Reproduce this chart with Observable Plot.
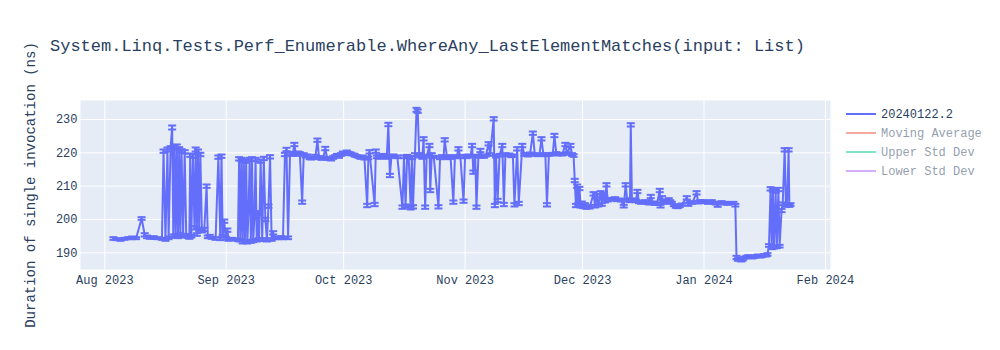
<!DOCTYPE html>
<html>
<head>
<meta charset="utf-8">
<script src="https://cdn.jsdelivr.net/npm/d3@7"></script>
<script src="https://cdn.jsdelivr.net/npm/@observablehq/plot@0.6"></script>
<style>
  html, body { margin: 0; padding: 0; background: white; }
  #chart { width: 1000px; height: 350px; }
</style>
</head>
<body>
<div id="chart"></div>
<script>
const chartTitle = "System.Linq.Tests.Perf_Enumerable.WhereAny_LastElementMatches(input: List)";
const yAxisTitle = "Duration of single invocation (ns)";
const seriesNames = ["20240122.2", "Moving Average", "Upper Std Dev", "Lower Std Dev"];
const seriesColors = ["#636efa", "#EF553B", "#00cc96", "#ab63fa"];
const xTickDates = ["2023-08-01", "2023-09-01", "2023-10-01", "2023-11-01", "2023-12-01", "2024-01-01", "2024-02-01"];
const yTickValues = [190, 200, 210, 220, 230];
const xDomain = ["2023-07-25T19:12:00Z", "2024-02-02T07:12:00Z"];
const yDomain = [185.0, 235.7];

// Run times, in days after 2023-08-01 00:00 UTC
const baseDate = "2023-08-01T00:00:00Z";
const days = [
2.2,3.0,4.0,5.0,6.0,7.0,8.0,9.4,10.2,10.8,11.5,12.5,13.5,14.6,15.0,15.5,16.0,16.3,16.8,17.2,
17.5,17.8,18.1,18.4,18.7,19.0,19.3,19.6,20.0,20.4,20.8,21.2,21.6,21.8,22.1,22.5,22.9,23.2,23.5,23.8,
24.1,24.4,24.8,25.4,26.0,26.3,26.8,27.3,28.3,29.0,29.5,29.8,30.1,30.5,30.9,31.3,31.6,32.5,33.5,34.0,
34.3,34.6,34.9,35.2,35.5,35.8,36.1,36.4,36.7,37.0,37.3,37.6,37.9,38.2,38.5,38.8,39.1,39.4,39.8,40.2,
40.6,41.0,41.4,41.8,42.2,42.6,43.0,43.5,44.0,44.5,45.0,45.5,46.0,46.4,46.8,47.3,48.0,48.4,48.8,49.3,
49.8,50.4,50.8,51.3,51.8,52.3,52.8,53.3,53.8,54.3,54.7,55.3,55.8,56.3,56.8,57.3,57.8,58.3,58.8,59.3,
59.8,60.3,60.8,61.3,61.8,62.3,62.8,63.3,63.8,64.3,64.8,65.3,65.8,66.3,67.0,67.3,67.6,68.9,69.2,69.5,
70.0,70.5,71.0,71.5,72.0,72.4,72.8,73.2,73.7,74.2,74.7,76.0,76.4,76.8,77.2,77.6,78.1,78.4,78.7,79.2,
79.6,79.9,80.3,80.7,81.1,81.4,81.8,82.2,82.9,83.1,83.5,84.0,85.2,85.6,86.1,86.5,86.8,87.4,87.9,88.3,
89.0,89.4,89.9,90.3,90.8,91.6,92.0,92.4,92.9,93.4,93.8,94.1,94.6,94.9,95.4,95.9,96.3,96.8,97.3,98.0,
98.4,99.3,99.6,99.9,100.3,100.8,101.5,101.9,102.3,102.8,103.3,103.8,104.2,104.6,105.3,105.7,106.6,107.1,107.6,108.1,
108.6,109.3,109.8,110.5,111.0,111.5,112.0,112.5,112.9,113.4,113.9,114.4,114.8,115.3,115.8,116.3,116.8,117.6,118.0,118.9,
119.3,119.7,120.0,120.3,120.6,120.9,121.2,121.5,121.8,122.2,122.6,123.0,123.4,123.8,124.8,125.2,125.6,126.0,126.6,126.9,
127.3,127.7,128.1,128.4,128.8,129.3,129.8,130.3,130.8,131.3,131.8,132.5,133.0,133.4,133.9,134.1,134.3,134.6,135.1,135.6,
136.0,136.4,137.0,137.5,138.0,138.5,139.0,139.4,140.0,140.5,141.0,141.7,141.9,142.3,142.8,143.3,144.0,144.4,144.8,145.3,
145.8,146.3,146.8,147.3,148.6,149.0,149.5,150.0,151.1,151.5,152.0,152.5,153.0,153.5,154.0,154.5,155.0,155.5,156.0,156.5,
157.0,157.5,158.0,158.5,159.0,159.5,160.5,161.0,161.3,161.7,162.1,162.5,162.9,163.3,163.8,164.3,164.8,165.3,165.8,166.3,
166.8,167.3,167.8,168.3,168.8,169.2,169.6,170.0,170.3,170.6,170.9,171.3,171.6,172.0,172.3,172.8,173.1,173.6,173.9,174.2,
174.6,174.8,175.1
];
const values = [
194.3,194.1,193.9,194.2,194.4,194.5,194.4,200.3,195.4,194.8,194.5,194.6,194.4,194.2,220.5,194.0,221.0,194.5,221.5,227.6,
195.0,221.8,195.2,222.0,194.8,221.2,195.5,220.6,195.0,220.3,195.2,195.0,194.6,219.3,195.0,219.0,197.5,221.0,195.5,220.5,
197.0,219.5,196.5,197.0,210.0,194.8,195.0,194.5,194.3,218.7,194.2,219.0,195.0,199.5,194.4,196.8,194.0,194.2,194.0,193.8,
218.2,193.8,218.0,193.2,217.6,193.5,217.5,193.2,202.5,218.0,193.4,218.2,193.6,200.5,218.0,193.8,202.0,194.0,217.5,194.0,
218.3,200.0,193.8,204.0,218.8,194.0,196.0,194.5,194.5,194.4,194.6,194.4,219.5,221.0,194.5,219.8,219.5,222.5,219.5,220.0,
219.8,205.2,219.5,219.0,219.2,218.5,218.3,218.5,219.0,223.8,218.6,218.2,218.5,221.3,218.3,218.2,218.0,218.6,219.0,219.3,
218.8,219.5,220.0,219.6,220.3,220.0,219.8,219.5,219.3,219.0,218.8,218.5,218.8,218.3,204.2,218.5,220.3,204.5,220.5,218.8,
218.5,219.0,219.3,219.0,218.5,228.5,213.2,219.0,219.2,218.8,218.8,203.7,218.8,204.0,219.0,218.7,203.5,218.5,203.8,219.5,
232.9,232.5,219.0,219.5,218.5,224.2,203.7,219.0,222.2,208.7,219.5,218.8,203.8,218.5,219.0,218.8,223.9,218.5,219.0,218.5,
205.2,218.8,219.0,221.2,218.8,205.5,219.0,218.7,219.2,219.0,222.2,214.2,219.0,203.7,219.0,220.7,219.0,218.8,219.2,222.7,
219.5,230.2,204.2,219.0,205.7,219.3,222.2,204.5,219.5,219.3,219.5,219.0,219.2,204.4,221.2,204.8,222.2,219.5,219.5,219.2,
219.8,225.9,219.5,219.3,219.5,224.2,219.5,219.3,204.4,219.5,219.5,219.7,225.2,219.8,219.5,219.7,219.5,222.5,219.8,222.2,
219.5,219.2,211.7,204.2,210.0,204.5,209.3,204.0,205.0,203.8,204.5,203.5,204.0,203.6,207.7,204.0,207.2,204.3,208.0,204.5,
207.5,205.5,210.4,205.8,206.0,206.2,206.0,206.3,205.8,206.0,205.7,204.0,210.4,205.8,206.0,205.5,228.4,205.8,206.0,205.5,
208.4,205.3,205.0,205.3,205.5,205.0,204.8,206.9,205.0,204.7,204.8,208.7,204.0,206.5,205.0,205.5,206.0,205.5,205.0,204.3,
203.8,203.7,204.0,204.5,206.5,204.5,205.2,205.0,208.0,205.2,205.5,205.3,205.5,205.2,205.0,205.3,205.5,205.0,204.8,204.2,
205.0,205.2,204.8,205.0,204.7,204.9,205.0,204.3,188.6,188.0,188.3,187.8,188.0,188.5,188.8,189.0,188.8,188.6,188.8,189.0,
189.2,188.9,189.0,189.3,189.2,189.5,192.2,209.2,191.5,208.8,191.7,208.5,191.8,209.0,192.0,202.7,204.7,220.9,204.5,204.2,
220.9,204.2,204.5
];
const errors = [
0.4,0.3,0.3,0.3,0.3,0.4,0.3,0.4,0.5,0.4,0.3,0.4,0.3,0.3,0.5,0.4,0.6,0.4,0.5,0.6,
0.5,0.6,0.4,0.5,0.4,0.5,0.5,0.5,0.4,0.5,0.4,0.5,0.4,0.5,0.4,0.5,0.5,0.6,0.4,0.5,
0.5,0.5,0.4,0.5,0.5,0.4,0.4,0.3,0.4,0.5,0.4,0.5,0.4,0.5,0.4,0.5,0.4,0.3,0.3,0.3,
0.5,0.4,0.5,0.4,0.5,0.4,0.5,0.4,0.5,0.5,0.4,0.5,0.4,0.5,0.5,0.4,0.5,0.4,0.5,0.4,
0.5,0.5,0.4,0.5,0.5,0.4,0.5,0.4,0.3,0.3,0.4,0.3,0.5,0.5,0.4,0.5,0.4,0.5,0.4,0.4,
0.4,0.5,0.4,0.4,0.3,0.4,0.3,0.3,0.4,0.5,0.4,0.3,0.4,0.5,0.4,0.3,0.3,0.4,0.3,0.4,
0.3,0.4,0.4,0.3,0.4,0.3,0.3,0.3,0.4,0.3,0.3,0.3,0.4,0.3,0.5,0.4,0.5,0.5,0.5,0.4,
0.3,0.3,0.4,0.3,0.3,0.5,0.5,0.4,0.3,0.3,0.4,0.5,0.4,0.5,0.4,0.3,0.5,0.4,0.5,0.4,
0.6,0.5,0.4,0.4,0.3,0.5,0.5,0.4,0.5,0.5,0.4,0.3,0.5,0.4,0.3,0.3,0.5,0.4,0.3,0.3,
0.5,0.4,0.3,0.5,0.4,0.5,0.4,0.3,0.3,0.3,0.5,0.5,0.4,0.5,0.4,0.5,0.4,0.3,0.3,0.5,
0.4,0.5,0.5,0.4,0.5,0.4,0.5,0.5,0.4,0.3,0.3,0.3,0.3,0.5,0.5,0.5,0.5,0.4,0.3,0.3,
0.3,0.5,0.4,0.3,0.3,0.5,0.4,0.3,0.5,0.4,0.3,0.3,0.5,0.4,0.3,0.3,0.3,0.5,0.4,0.5,
0.4,0.4,0.5,0.5,0.5,0.4,0.5,0.4,0.4,0.4,0.4,0.3,0.3,0.3,0.5,0.4,0.5,0.4,0.5,0.4,
0.5,0.4,0.5,0.4,0.3,0.3,0.3,0.4,0.3,0.3,0.3,0.4,0.5,0.4,0.3,0.3,0.5,0.4,0.3,0.3,
0.5,0.4,0.3,0.3,0.3,0.3,0.3,0.5,0.4,0.3,0.3,0.5,0.4,0.5,0.3,0.3,0.4,0.3,0.3,0.3,
0.3,0.3,0.3,0.3,0.5,0.4,0.3,0.3,0.5,0.4,0.3,0.3,0.3,0.3,0.3,0.3,0.3,0.3,0.3,0.4,
0.3,0.3,0.3,0.3,0.3,0.3,0.3,0.4,0.5,0.4,0.3,0.4,0.3,0.3,0.3,0.3,0.3,0.3,0.3,0.3,
0.3,0.3,0.3,0.3,0.3,0.4,0.4,0.5,0.4,0.5,0.4,0.5,0.4,0.5,0.4,0.5,0.4,0.5,0.4,0.4,
0.5,0.4,0.4
];

const FONT = "'Liberation Mono', 'Courier New', monospace";
const TEXT = "#2a3f5f";
const base = new Date(baseDate).getTime();
const n = Math.min(days.length, values.length, errors.length);
const rows = [];
for (let i = 0; i < n; i++) {
  rows.push({
    date: new Date(base + days[i] * 86400000),
    value: values[i],
    lo: values[i] - errors[i],
    hi: values[i] + errors[i]
  });
}
const xTicks = xTickDates.map(s => new Date(s + "T00:00:00Z"));

// horizontal cap symbol for error bars
const capSymbol = {
  draw(context, size) {
    const r = Math.sqrt(size / Math.PI);
    context.moveTo(-r, 0);
    context.lineTo(r, 0);
  }
};

const color = seriesColors[0];
const svg = Plot.plot({
  width: 1000,
  height: 350,
  marginLeft: 80,
  marginRight: 170,
  marginTop: 100,
  marginBottom: 81,
  style: { fontFamily: FONT, fontSize: "12px", color: TEXT, background: "white" },
  x: { type: "utc", domain: xDomain.map(s => new Date(s)) },
  y: { domain: yDomain },
  marks: [
    Plot.frame({ fill: "#E5ECF6", stroke: null }),
    Plot.gridX(xTicks, { stroke: "white", strokeOpacity: 1, strokeWidth: 1 }),
    Plot.gridY(yTickValues, { stroke: "white", strokeOpacity: 1, strokeWidth: 1 }),
    Plot.axisX(xTicks, { tickFormat: d3.utcFormat("%b %Y"), tickSize: 0, tickPadding: 6, label: null, fontSize: 12, fill: TEXT }),
    Plot.axisY(yTickValues, { tickSize: 0, tickPadding: 3, label: null, fontSize: 12, fill: TEXT }),
    Plot.ruleX(rows, { x: "date", y1: "lo", y2: "hi", stroke: color, strokeWidth: 2 }),
    Plot.line(rows, { x: "date", y: "value", stroke: color, strokeWidth: 2 }),
    Plot.dot(rows, { x: "date", y: "hi", symbol: capSymbol, r: 4, stroke: color, strokeWidth: 2, fill: "none" }),
    Plot.dot(rows, { x: "date", y: "lo", symbol: capSymbol, r: 4, stroke: color, strokeWidth: 2, fill: "none" })
  ]
});

const s = d3.select(svg);
s.append("text")
  .attr("x", 50).attr("y", 51)
  .attr("text-anchor", "start")
  .attr("fill", TEXT).attr("font-family", FONT).attr("font-size", 17)
  .text(chartTitle);
s.append("text")
  .attr("transform", "translate(35,185) rotate(-90)")
  .attr("text-anchor", "middle")
  .attr("fill", TEXT).attr("font-family", FONT).attr("font-size", 14)
  .text(yAxisTitle);
const legend = s.append("g");
seriesNames.forEach((name, i) => {
  const y = 114 + i * 19;
  const g = legend.append("g").attr("opacity", i === 0 ? 1 : 0.5);
  g.append("line").attr("x1", 846).attr("x2", 876).attr("y1", y).attr("y2", y)
    .attr("stroke", seriesColors[i]).attr("stroke-width", 2);
  g.append("text").attr("x", 881).attr("y", y + 4)
    .attr("text-anchor", "start")
    .attr("fill", TEXT).attr("font-family", FONT).attr("font-size", 12)
    .text(name);
});

document.getElementById("chart").appendChild(svg);
</script>
</body>
</html>
